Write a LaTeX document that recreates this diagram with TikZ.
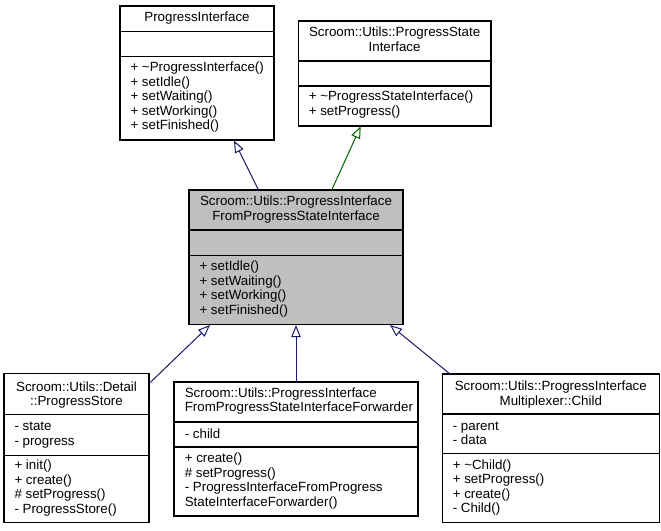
\documentclass[tikz,border=0pt]{standalone}
\usepackage{fontspec}
\setmainfont{Liberation Sans}
\usetikzlibrary{arrows.meta}
\definecolor{edgeblue}{HTML}{191970}
\definecolor{edgegreen}{HTML}{006400}
\definecolor{boxgray}{HTML}{BFBFBF}
\tikzset{
  umlrect/.style={draw=black, line width=0.8pt, fill=white, inner sep=0pt, outer sep=0pt, rectangle},
  sepline/.style={draw=black, line width=0.8pt},
  txt/.style={font=\fontsize{10}{12}\selectfont, inner sep=0pt, outer sep=0pt, text=black},
  inh/.style={draw=#1, line width=0.75pt, -{Triangle[open,length=9pt,width=7pt]}}
}
\newcommand\umlbox[8]{%
  \node[umlrect,#8,minimum width={(#4-#2)*0.75pt},minimum height={(#5-#3)*0.75pt}] (#1) at ({(#2+#4)/2},{(#3+#5)/2}) {};
  \draw[sepline] (#2,#6) -- (#4,#6) (#2,#7) -- (#4,#7);}
\newcommand\umllines[5]{%
  \foreach \t [count=\i] in {#5} {\node[txt,anchor=#4] (#1\i) at ({#2},{#3+14.55*(\i-1)}) {\t};}}
\begin{document}
\begin{tikzpicture}[x=0.75pt,y=-0.75pt]
\useasboundingbox (0,0) rectangle (661,531);

% ProgressInterface
\umlbox{pi}{120}{6}{274}{140}{31.7}{56.7}{}
\umllines{pi-t}{197}{21.5}{base}{ProgressInterface}
\umllines{pi-m}{130.5}{71.7}{base west}{+ \textasciitilde ProgressInterface(), + setIdle(), + setWaiting(), + setWorking(), + setFinished()}

% ProgressStateInterface
\umlbox{psi}{298.3}{21}{491}{126}{61}{86}{}
\umllines{psi-t}{394.6}{37}{base}{Scroom::Utils::ProgressState, Interface}
\umllines{psi-m}{308.8}{101}{base west}{+ \textasciitilde ProgressStateInterface(), + setProgress()}

% middle (highlighted)
\umlbox{mid}{189}{190}{403}{324.7}{230}{255.3}{fill=boxgray}
\umllines{mid-t}{296}{206}{base}{Scroom::Utils::ProgressInterface, FromProgressStateInterface}
\umllines{mid-m}{199.5}{270.7}{base west}{+ setIdle(), + setWaiting(), + setWorking(), + setFinished()}

% ProgressStore
\umlbox{ps}{4}{373.3}{149}{522.7}{414.7}{455.7}{}
\umllines{ps-t}{76.5}{391}{base}{Scroom::Utils::Detail, ::ProgressStore}
\umllines{ps-a}{14.5}{430.5}{base west}{- state, - progress}
\umllines{ps-m}{14.5}{469.5}{base west}{+ init(), + create(), \# setProgress(), - ProgressStore()}

% Forwarder
\umlbox{fwd}{174}{382}{418}{516}{422}{447}{}
\umllines{fwd-t}{184.8}{397.3}{base west}{Scroom::Utils::ProgressInterface, FromProgressStateInterfaceForwarder}
\umllines{fwd-a}{184.8}{438}{base west}{- child}
\umllines{fwd-m}{184.8}{462.7}{base west}{+ create(), \# setProgress(), - ProgressInterfaceFromProgress, StateInterfaceForwarder()}

% Multiplexer::Child
\umlbox{ch}{442.3}{374}{659.3}{522.7}{414}{453.3}{}
\umllines{ch-t}{550.8}{390.7}{base}{Scroom::Utils::ProgressInterface, Multiplexer::Child}
\umllines{ch-a}{452.8}{430}{base west}{- parent, - data}
\umllines{ch-m}{452.8}{469}{base west}{+ \textasciitilde Child(), + setProgress(), + create(), - Child()}

% connectors
\coordinate (e1a) at (258.5,190);  \coordinate (e1b) at (234,140.5);
\coordinate (e2a) at (331.7,190);  \coordinate (e2b) at (360.7,126.3);
\coordinate (e3a) at (150,382.7);  \coordinate (e3b) at (210,325);
\coordinate (e4a) at (296,382);    \coordinate (e4b) at (296,325);
\coordinate (e5a) at (450,374);    \coordinate (e5b) at (390,325);
\draw[inh=edgeblue]  (e1a) -- (e1b);
\draw[inh=edgegreen] (e2a) -- (e2b);
\draw[inh=edgeblue]  (e3a) -- (e3b);
\draw[inh=edgeblue]  (e4a) -- (e4b);
\draw[inh=edgeblue]  (e5a) -- (e5b);
\end{tikzpicture}
\end{document}
